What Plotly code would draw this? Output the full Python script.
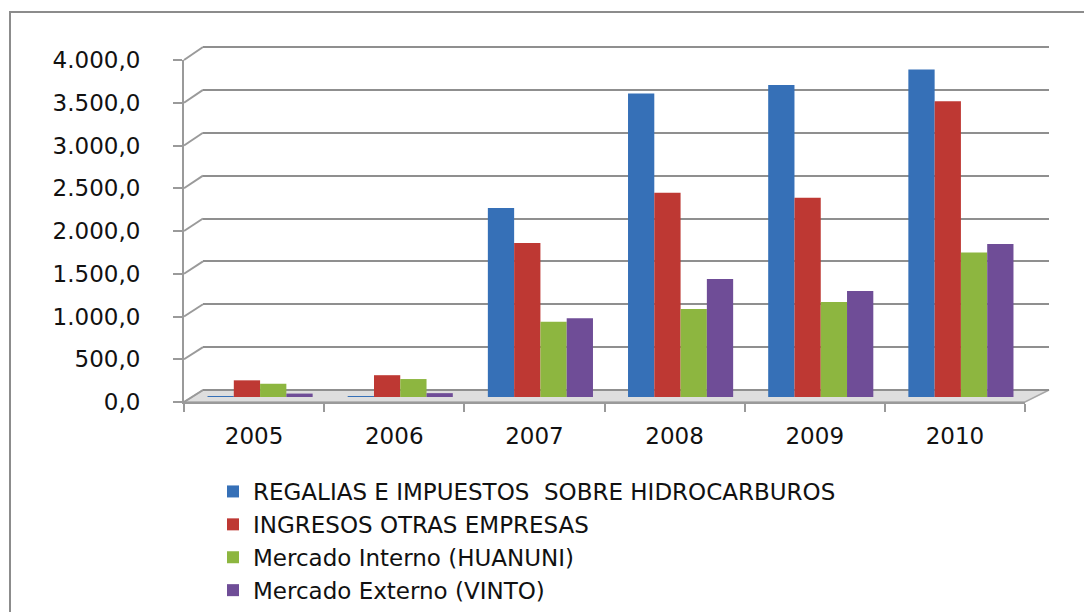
import plotly.graph_objects as go

YEARS = ["2005", "2006", "2007", "2008", "2009", "2010"]
SERIES_NAMES = [
    "REGALIAS E IMPUESTOS  SOBRE HIDROCARBUROS",
    "INGRESOS OTRAS EMPRESAS",
    "Mercado Interno (HUANUNI)",
    "Mercado Externo (VINTO)",
]
REGALIAS = [5, 5, 2210, 3550, 3650, 3830]
INGRESOS = [195, 255, 1800, 2390, 2330, 3460]
HUANUNI = [155, 210, 880, 1030, 1110, 1690]
VINTO = [40, 45, 920, 1380, 1240, 1790]
SERIES_VALUES = [REGALIAS, INGRESOS, HUANUNI, VINTO]
COLORS = ["#3670B7", "#BE3833", "#8DB640", "#6F4D97"]
Y_TICKS = [0, 500, 1000, 1500, 2000, 2500, 3000, 3500, 4000]

OFF = 8  # page body margin
W, H = 1092 - OFF, 612 - OFF
FONT = "DejaVu Sans"
FS = 23

def px_x(p):
    return (p - OFF) / W

def px_y(p):
    return 1 - (p - OFF) / H

ymax = Y_TICKS[-1]

# front (axis) plane, back wall plane, and mid-depth plane for the columns
FRONT_X = [px_x(184), px_x(1025)]
FRONT_Y = [px_y(402), px_y(60)]
BACK_X = [px_x(203), px_x(1049)]
BACK_BOT, BACK_TOP = 390, 47
BACK_Y = [px_y(BACK_BOT), px_y(BACK_TOP)]
PAD = 100
pad_px = PAD * (BACK_BOT - BACK_TOP) / ymax
BACK_Y_PADDED = [px_y(BACK_BOT + pad_px), px_y(BACK_TOP - pad_px)]
MID_X = [px_x(190), px_x(1031)]
MID_Y = [px_y(397), px_y(55)]

fig = go.Figure()

fig.add_trace(go.Scatter(x=[], y=[], xaxis="x", yaxis="y", showlegend=False,
                         hoverinfo="skip"))
fig.add_trace(go.Scatter(x=[], y=[], xaxis="x2", yaxis="y2", showlegend=False,
                         hoverinfo="skip"))

for i, (name, vals, col) in enumerate(zip(SERIES_NAMES, SERIES_VALUES, COLORS)):
    fig.add_trace(go.Bar(
        x=YEARS, y=vals, name=name, marker=dict(color=col, line=dict(width=0)),
        xaxis="x3", yaxis="y3", legendgroup=f"g{i}",
    ))

shapes = []
floor_path = (f"M {FRONT_X[0]} {FRONT_Y[0]} L {FRONT_X[1]} {FRONT_Y[0]} "
              f"L {BACK_X[1]} {BACK_Y[0]} L {BACK_X[0]} {BACK_Y[0]} Z")
shapes.append(dict(type="path", xref="paper", yref="paper", path=floor_path,
                   fillcolor="#dedede", line=dict(color="#a8a8a8", width=1.5),
                   layer="below"))
for v in Y_TICKS:
    yf = FRONT_Y[0] + (FRONT_Y[1] - FRONT_Y[0]) * v / ymax
    yb = BACK_Y[0] + (BACK_Y[1] - BACK_Y[0]) * v / ymax
    shapes.append(dict(type="line", xref="paper", yref="paper",
                       x0=FRONT_X[0], y0=yf, x1=BACK_X[0], y1=yb,
                       line=dict(color="#9a9a9a", width=2), layer="below"))
shapes.append(dict(type="rect", xref="paper", yref="paper",
                   x0=px_x(10), y0=-0.05, x1=1.05, y1=px_y(12),
                   line=dict(color="#8c8c8c", width=2), fillcolor="rgba(0,0,0,0)"))

n = len(YEARS)
fig.update_layout(
    width=W, height=H,
    margin=dict(l=0, r=0, t=0, b=0, autoexpand=False),
    paper_bgcolor="white", plot_bgcolor="rgba(0,0,0,0)",
    separators=",.",
    font=dict(family=FONT, size=FS, color="#111111"),
    barmode="group", bargap=0.25, bargroupgap=0,
    showlegend=True,
    legend=dict(x=px_x(213), y=px_y(470), xanchor="left", yanchor="top",
                traceorder="grouped", tracegroupgap=0,
                font=dict(family=FONT, size=FS, color="#111111"),
                bgcolor="rgba(0,0,0,0)"),
    shapes=shapes,
    xaxis=dict(domain=FRONT_X, anchor="y", range=[-0.5, n - 0.5],
               tickvals=list(range(n)), ticktext=YEARS, ticks="",
               showgrid=False, zeroline=False, showline=True,
               linecolor="#9a9a9a", linewidth=2,
               minor=dict(tickvals=[k - 0.5 for k in range(n + 1)], ticks="outside",
                          ticklen=8, tickcolor="#9a9a9a", tickwidth=2, showgrid=False),
               ticklabelstandoff=12, fixedrange=True),
    yaxis=dict(domain=FRONT_Y, anchor="x", range=[0, ymax], tickvals=Y_TICKS,
               tickformat=",.1f", ticks="outside", ticklen=9, tickcolor="#9a9a9a",
               tickwidth=2, showgrid=False, zeroline=False, showline=True,
               linecolor="#9a9a9a", linewidth=2, ticklabelstandoff=28,
               fixedrange=True),
    xaxis2=dict(domain=BACK_X, anchor="y2", range=[0, 1], showgrid=False,
                zeroline=False, showline=False, showticklabels=False, ticks=""),
    yaxis2=dict(domain=BACK_Y_PADDED, anchor="x2", range=[-PAD, ymax + PAD],
                tickvals=Y_TICKS, showgrid=True, gridcolor="#8f8f8f", gridwidth=2,
                showticklabels=False, ticks="", zeroline=False, showline=False),
    xaxis3=dict(domain=MID_X, anchor="y3", type="category", categoryarray=YEARS,
                range=[-0.5, n - 0.5], visible=False),
    yaxis3=dict(domain=MID_Y, anchor="x3", range=[0, ymax], visible=False),
)

fig.write_html("out.html")
